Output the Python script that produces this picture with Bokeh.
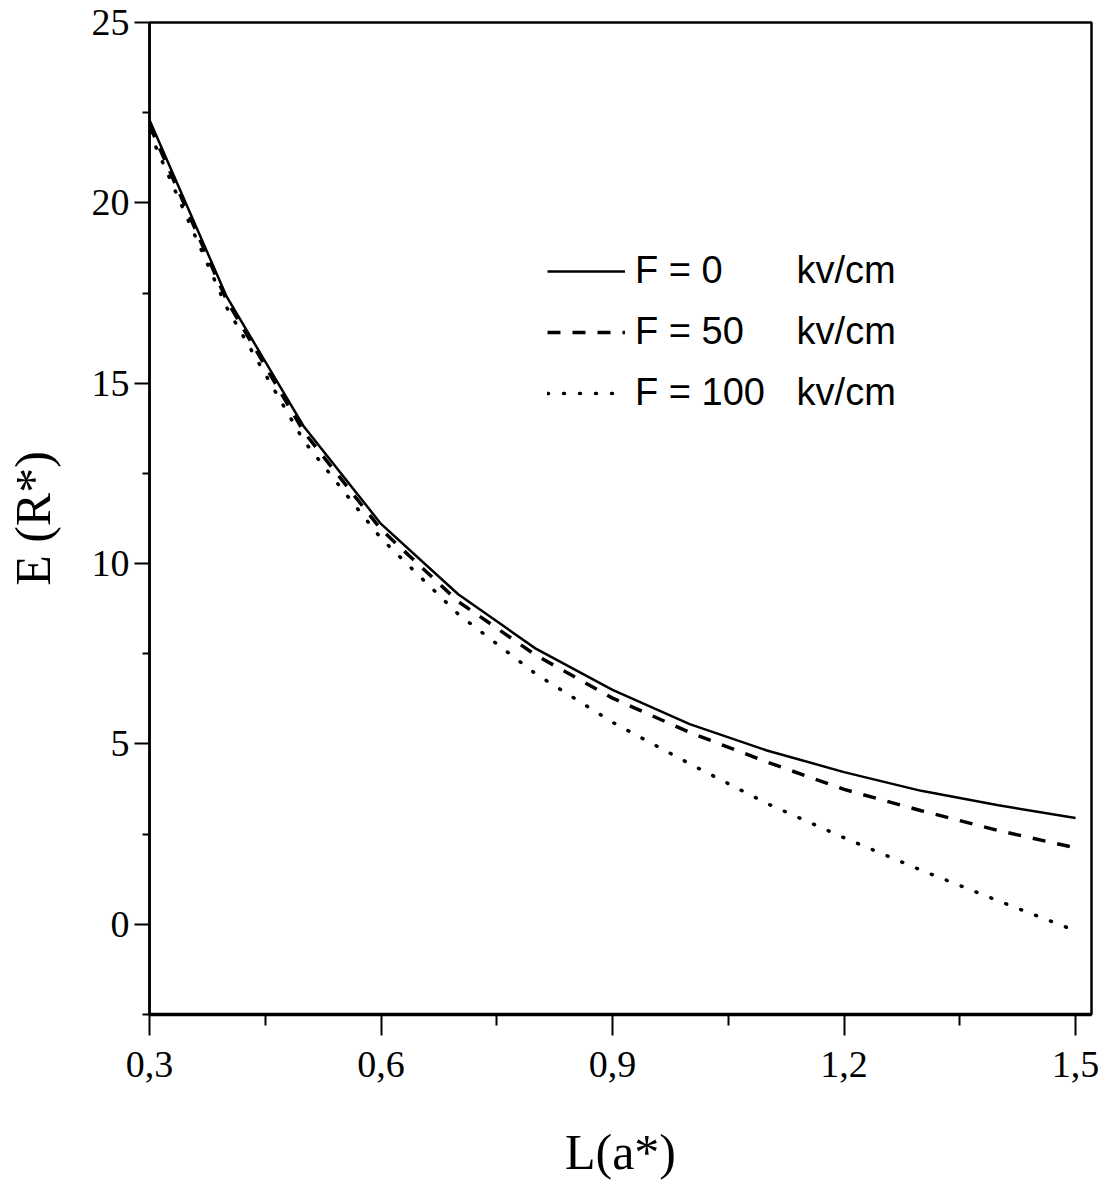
from bokeh.plotting import figure
from bokeh.models import Range1d, FixedTicker, CustomJSTickFormatter, Legend, LegendItem
from bokeh.embed import file_html
from bokeh.resources import INLINE

# ---- data ----
L_values = [0.3, 0.4, 0.5, 0.6, 0.7, 0.8, 0.9, 1.0, 1.1, 1.2, 1.3, 1.4, 1.5]
E_F0 = [22.3, 17.4, 13.8, 11.1, 9.15, 7.65, 6.5, 5.55, 4.82, 4.22, 3.7, 3.3, 2.95]
E_F50 = [22.15, 17.3, 13.65, 10.95, 8.95, 7.47, 6.27, 5.32, 4.5, 3.74, 3.15, 2.6, 2.12]
E_F100 = [21.95, 17.1, 13.4, 10.7, 8.6, 6.95, 5.6, 4.45, 3.35, 2.4, 1.5, 0.65, -0.18]
series_labels = ["F = 0" + "\u00a0" * 7 + "kv/cm",
                 "F = 50" + "\u00a0" * 5 + "kv/cm",
                 "F = 100" + "\u00a0" * 3 + "kv/cm"]
x_ticks = [0.3, 0.6, 0.9, 1.2, 1.5]
x_minor = [0.45, 0.75, 1.05, 1.35]
y_ticks = [0, 5, 10, 15, 20, 25]
y_minor = [-2.5, 2.5, 7.5, 12.5, 17.5, 22.5]

p = figure(width=1112, height=1194, output_backend="svg", toolbar_location=None,
           x_range=Range1d(0.3, 1.5207), y_range=Range1d(-2.5, 25),
           min_border_left=149, min_border_right=21, min_border_top=22, min_border_bottom=180)
p.grid.visible = False
p.outline_line_color = "black"
p.outline_line_width = 2.5
p.background_fill_color = "white"
p.border_fill_color = "white"

r0 = p.line(L_values, E_F0, line_color="black", line_width=2.5)
r1 = p.line(L_values, E_F50, line_color="black", line_width=3.5, line_dash="13 12")
r2 = p.line(L_values, E_F100, line_color="black", line_width=3.5, line_dash="1 15", line_cap="round")

serif = "Liberation Serif"
xa = p.xaxis[0]
xa.ticker = FixedTicker(ticks=x_ticks, minor_ticks=x_minor)
xa.formatter = CustomJSTickFormatter(code="return tick.toFixed(1).replace('.', ',');")
xa.axis_label = "L(a*)"
ya = p.yaxis[0]
ya.ticker = FixedTicker(ticks=y_ticks, minor_ticks=y_minor)
ya.axis_label = "E (R*)"

for ax in (xa, ya):
    ax.axis_line_color = "black"
    ax.major_tick_line_color = "black"
    ax.minor_tick_line_color = "black"
    ax.major_tick_line_width = 2
    ax.minor_tick_line_width = 2
    ax.major_tick_in = 0
    ax.minor_tick_in = 0
    ax.major_label_text_font = serif
    ax.major_label_text_font_size = "38px"
    ax.major_label_text_color = "black"
    ax.axis_label_text_font = serif
    ax.axis_label_text_font_size = "50px"
    ax.axis_label_text_font_style = "normal"
    ax.axis_label_text_color = "black"

xa.axis_line_width = 3.5
xa.major_tick_out = 21
xa.minor_tick_out = 11
xa.major_label_standoff = 16
xa.axis_label_standoff = 44

ya.axis_line_width = 2.5
ya.major_tick_out = 15
ya.minor_tick_out = 7
ya.major_label_standoff = 5
ya.axis_label_standoff = 28

legend = Legend(items=[LegendItem(label=series_labels[0], renderers=[r0]),
                       LegendItem(label=series_labels[1], renderers=[r1]),
                       LegendItem(label=series_labels[2], renderers=[r2])],
                location=(398, 600))
legend.label_text_font = "Liberation Sans"
legend.label_text_font_size = "38px"
legend.label_text_color = "black"
legend.glyph_width = 78
legend.glyph_height = 42
legend.label_height = 42
legend.spacing = 18
legend.label_standoff = 10
legend.padding = 0
legend.margin = 0
legend.border_line_alpha = 0
legend.background_fill_alpha = 0
p.add_layout(legend)

open("out.html", "w").write(file_html(p, INLINE))
